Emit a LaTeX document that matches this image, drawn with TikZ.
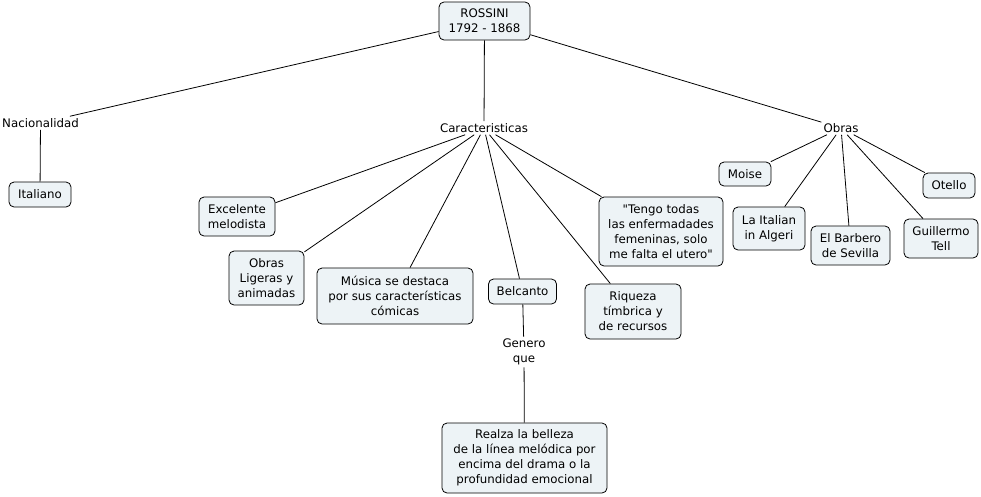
\documentclass[tikz,border=0pt]{standalone}
\usepackage{fontspec}
\setmainfont{DejaVu Sans}
\usepackage{xcolor}
\usepackage{tikz}
\usetikzlibrary{positioning}
\definecolor{boxfill}{HTML}{EDF3F6}

\begin{document}
\begin{tikzpicture}[x=1pt,y=-1pt,
  every node/.style={font=\fontsize{11.8}{15}\selectfont},
  concept/.style={draw,fill=boxfill,rounded corners=5pt,align=center,inner sep=2pt,line width=0.8pt},
  linkword/.style={align=center,inner sep=2pt},
  link/.style={line width=0.8pt}]
\useasboundingbox (0,0) rectangle (981,496);

% Root
\node[concept,minimum width=91pt,minimum height=38pt] (rossini) at (484.5,21) {ROSSINI\\1792 - 1868};

% Linking words
\node[linkword] (nac) at (40.5,123) {Nacionalidad};
\node[linkword] (car) at (484,128) {Caracteristicas};
\node[linkword] (obras) at (841,128) {Obras};
\node[linkword] (genero) at (524,352) {Genero\\que};

% Nacionalidad
\node[concept,minimum width=62pt,minimum height=25pt] (italiano) at (40,194.5) {Italiano};

% Caracteristicas
\node[concept,minimum width=76pt,minimum height=39pt] (melodista) at (237,216.5) {Excelente\\melodista};
\node[concept,minimum width=75pt,minimum height=54pt] (ligeras) at (266.5,278) {Obras\\Ligeras y\\animadas};
\node[concept,minimum width=156pt,minimum height=56pt] (comicas) at (395,296) {Música se destaca\\por sus características\\cómicas};
\node[concept,minimum width=68pt,minimum height=25pt] (belcanto) at (522.5,291.5) {Belcanto};
\node[concept,minimum width=165pt,minimum height=70pt] (realza) at (524.5,458) {Realza la belleza\\de la línea melódica por\\encima del drama o la\\profundidad emocional};
\node[concept,minimum width=96pt,minimum height=55pt] (riqueza) at (633,311.5) {Riqueza\\tímbrica y\\de recursos};
\node[concept,minimum width=124pt,minimum height=69pt] (tengo) at (661,231.5) {\textquotedbl Tengo todas\\las enfermadades\\femeninas, solo\\me falta el utero\textquotedbl};

% Obras
\node[concept,minimum width=52pt,minimum height=24pt] (moise) at (745,174) {Moise};
\node[concept,minimum width=72pt,minimum height=43pt] (italian) at (769,228.5) {La Italian\\in Algeri};
\node[concept,minimum width=79pt,minimum height=39pt] (barbero) at (850.5,245.5) {El Barbero\\de Sevilla};
\node[concept,minimum width=74pt,minimum height=39pt] (tell) at (941,238.5) {Guillermo\\Tell};
\node[concept,minimum width=52pt,minimum height=25pt] (otello) at (949,185.5) {Otello};

% Connectors
\foreach \a/\b in {rossini/nac, rossini/car, rossini/obras, nac/italiano,
    car/melodista, car/ligeras, car/comicas, car/belcanto, car/riqueza, car/tengo,
    belcanto/genero, genero/realza,
    obras/moise, obras/italian, obras/barbero, obras/tell, obras/otello} {
  \draw[link] (\a) -- (\b);
}
\end{tikzpicture}
\end{document}
